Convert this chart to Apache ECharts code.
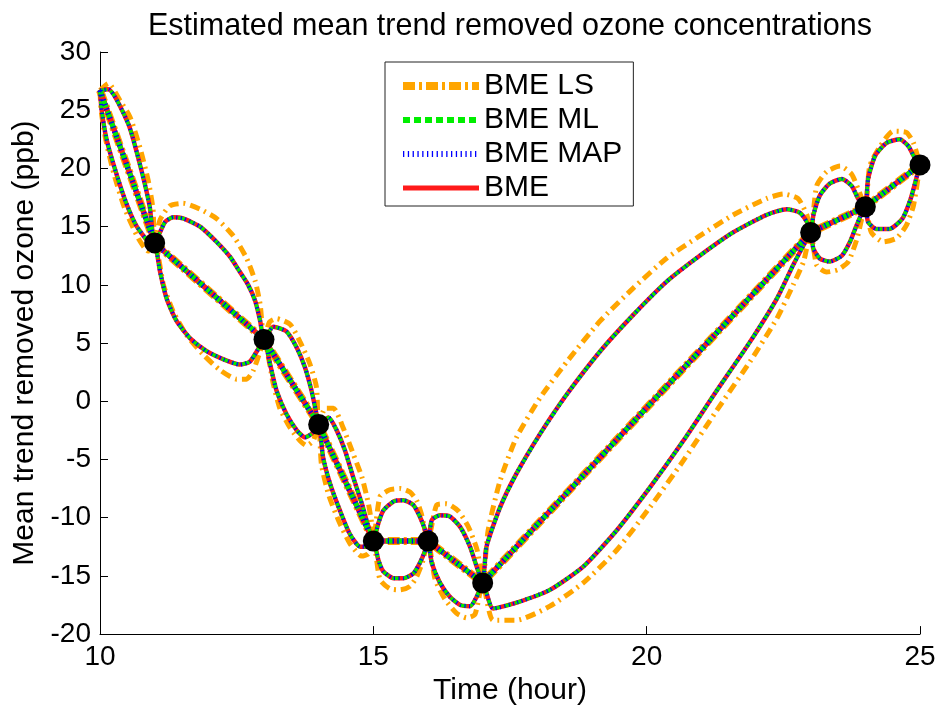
<!DOCTYPE html>
<html>
<head>
<meta charset="utf-8">
<script src="https://cdn.jsdelivr.net/npm/echarts@6/dist/echarts.min.js"></script>
<style>
  html, body { margin: 0; padding: 0; background: #fff; }
  #chart { width: 939px; height: 711px; }
</style>
</head>
<body>
<div id="chart"></div>
<script>
// observed (conditioning) points, hour -> ppb
const hours = [11, 13, 14, 15, 16, 17, 23, 24, 25]
const observed = [13.6, 5.3, -2.0, -12.0, -12.0, -15.6, 14.5, 16.7, 20.3]

// estimated mean (same for all four methods)
const meanHours = [10, 11, 13, 14, 15, 16, 17, 23, 24, 25]
const meanValues = [26.7, 13.6, 5.3, -2.0, -12.0, -12.0, -15.6, 14.5, 16.7, 20.3]

// BME / BME ML / BME MAP bounds (they overlap in the figure)
const bmeUpper = [
  [10, 26.7], [10.15, 26.8], [10.52, 23.8], [10.76, 19.8], [10.91, 16.7], [11, 13.6],
  [11.19, 15.4], [11.34, 15.8], [11.52, 15.7], [11.83, 15.0], [12.13, 13.7], [12.38, 12.4],
  [12.56, 11.1], [12.71, 10.0], [12.84, 8.6], [12.93, 6.9], [13, 5.3],
  [13.17, 6.4], [13.41, 6.0], [13.6, 4.6], [13.75, 2.9], [13.87, 0.9], [13.96, -1.1], [14, -2.0],
  [14.18, -1.4], [14.33, -2.5], [14.48, -4.2], [14.63, -6.5], [14.79, -8.8], [14.91, -10.8], [15, -12.0],
  [15.09, -10.5], [15.18, -9.4], [15.37, -8.6], [15.55, -8.5], [15.73, -8.9], [15.85, -9.9], [15.95, -11.1], [16, -12.0],
  [16.07, -10.2], [16.22, -9.8], [16.4, -9.9], [16.59, -10.8], [16.77, -12.5], [16.89, -14.2], [17, -15.6],
  [17.07, -12.5], [17.32, -9.1], [17.62, -6.2], [18.05, -2.8], [18.54, 0.6], [19.15, 4.3], [19.75, 7.4],
  [20.37, 10.3], [20.97, 12.5], [21.58, 14.5], [22.19, 16.0], [22.56, 16.5], [22.8, 16.2], [22.93, 15.4], [23, 14.5],
  [23.05, 16.0], [23.17, 17.7], [23.35, 18.7], [23.57, 19.1], [23.75, 18.5], [23.87, 17.4], [24, 16.7],
  [24.05, 19.1], [24.18, 21.1], [24.39, 22.2], [24.63, 22.5], [24.79, 21.9], [24.88, 21.1], [25, 20.3]
]
const bmeLower = [
  [10, 26.7], [10.03, 25.0], [10.12, 22.5], [10.25, 20.3], [10.45, 17.4], [10.65, 15.2], [10.85, 13.9], [11, 13.6],
  [11.1, 11.1], [11.22, 8.8], [11.4, 6.9], [11.65, 5.4], [11.95, 4.3], [12.26, 3.6], [12.56, 3.15],
  [12.74, 3.4], [12.87, 4.3], [13, 5.3],
  [13.11, 3.2], [13.23, 0.9], [13.41, -1.1], [13.6, -2.5], [13.75, -3.1], [13.87, -2.8], [14, -2.0],
  [14.08, -4.8], [14.21, -7.1], [14.39, -9.4], [14.57, -11.4], [14.76, -12.5], [14.91, -12.5], [15, -12.0],
  [15.09, -13.6], [15.18, -14.6], [15.37, -15.2], [15.55, -15.2], [15.73, -14.8], [15.85, -13.9], [15.95, -12.8], [16, -12.0],
  [16.07, -13.9], [16.22, -15.6], [16.4, -16.8], [16.59, -17.5], [16.77, -17.6], [16.89, -16.8], [17, -15.6],
  [17.19, -17.8], [17.62, -17.3], [18.23, -16.2], [18.84, -14.2], [19.45, -11.1], [20.06, -7.4],
  [20.67, -3.4], [21.28, 0.9], [21.89, 5.1], [22.38, 8.8], [22.68, 11.7], [22.87, 13.4], [23, 14.5],
  [23.05, 13.1], [23.17, 12.25], [23.35, 12.0], [23.57, 12.5], [23.72, 13.7], [23.84, 15.1], [24, 16.7],
  [24.05, 15.4], [24.2, 14.8], [24.44, 14.8], [24.68, 15.7], [24.83, 17.4], [24.93, 19.1], [25, 20.3]
]

// BME LS bounds (wider)
const lsUpper = [
  [10, 26.7], [10.15, 27.3], [10.37, 25.8], [10.55, 24.4], [10.73, 21.8], [10.88, 19.0], [10.97, 16.5], [11, 13.6],
  [11.1, 15.6], [11.28, 16.8], [11.52, 17.0], [11.83, 16.5], [12.13, 15.7], [12.44, 14.2], [12.68, 12.3],
  [12.84, 10.3], [12.93, 8.3], [13, 5.3],
  [13.1, 6.8], [13.23, 7.1], [13.48, 6.6], [13.66, 5.1], [13.84, 3.2], [13.96, 1.2], [14, -2.0],
  [14.12, -0.6], [14.27, -0.6], [14.45, -2.3], [14.63, -4.5], [14.79, -6.5], [14.91, -8.8], [14.97, -10.5], [15, -12.0],
  [15.12, -8.2], [15.3, -7.6], [15.49, -7.5], [15.67, -7.8], [15.79, -8.5], [15.88, -9.7], [16, -12.0],
  [16.16, -8.9], [16.34, -8.8], [16.55, -9.4], [16.74, -10.8], [16.9, -12.8], [17, -15.6],
  [17.1, -11.1], [17.32, -6.8], [17.62, -3.1], [18.05, 0.3], [18.54, 3.4], [19.15, 6.9], [19.75, 9.7],
  [20.37, 12.3], [20.97, 14.2], [21.58, 16.0], [22.19, 17.4], [22.5, 17.8], [22.77, 17.4], [22.93, 16.0], [23, 14.5],
  [23.11, 18.5], [23.29, 19.7], [23.54, 20.2], [23.75, 19.5], [23.87, 18.2], [24, 16.7],
  [24.08, 20.2], [24.27, 21.9], [24.51, 23.2], [24.75, 23.1], [24.88, 22.2], [25, 20.3]
]
const lsLower = [
  [10, 26.7], [10.02, 25.0], [10.1, 22.6], [10.25, 19.6], [10.45, 16.6], [10.7, 14.0], [10.88, 12.9], [11, 13.6],
  [11.16, 10.0], [11.34, 7.7], [11.58, 5.7], [11.89, 4.0], [12.19, 2.7], [12.5, 1.9], [12.68, 1.9],
  [12.8, 2.6], [12.93, 4.3], [13, 5.3],
  [13.17, 1.5], [13.29, -0.6], [13.48, -2.3], [13.66, -3.4], [13.78, -3.8], [13.9, -3.4], [14, -2.0],
  [14.05, -5.4], [14.18, -8.0], [14.36, -10.2], [14.57, -12.2], [14.79, -13.3], [14.91, -13.1], [15, -12.0],
  [15.12, -15.3], [15.3, -16.1], [15.49, -16.2], [15.67, -15.9], [15.79, -15.1], [15.9, -13.8], [16, -12.0],
  [16.13, -15.3], [16.31, -17.0], [16.52, -18.2], [16.71, -18.6], [16.86, -18.3], [17, -15.6],
  [17.19, -18.8], [17.62, -18.8], [18.23, -17.6], [18.84, -15.6], [19.45, -12.8], [20.06, -9.1],
  [20.67, -5.1], [21.28, -0.8], [21.89, 3.4], [22.38, 7.1], [22.68, 10.0], [22.87, 12.0], [23, 14.5],
  [23.11, 11.7], [23.29, 11.1], [23.5, 11.3], [23.69, 12.0], [23.85, 14.0], [24, 16.7],
  [24.11, 14.5], [24.33, 13.7], [24.57, 14.0], [24.75, 15.1], [24.88, 16.8], [25, 20.3]
]

const xTicks = [10, 15, 20, 25]
const yTicks = [-20, -15, -10, -5, 0, 5, 10, 15, 20, 25, 30]

const FONT = '"Liberation Sans", Arial, Helvetica, sans-serif'

const chart = echarts.init(document.getElementById('chart'))

const meanData = meanHours.map((h, i) => [h, meanValues[i]])

// one entry per method: name, colour, mean line width, bound line width, dash pattern
const methods = [
  { name: 'BME LS', color: '#ffa500', meanWidth: 8, boundWidth: 5, meanDash: [12, 4, 3, 4], boundDash: [10, 5, 2, 5], upper: lsUpper, lower: lsLower },
  { name: 'BME', color: '#ff1a1a', meanWidth: 5.5, boundWidth: 4.5, meanDash: 'solid', boundDash: 'solid', upper: bmeUpper, lower: bmeLower },
  { name: 'BME ML', color: '#00ee00', meanWidth: 5, boundWidth: 3.5, meanDash: [7, 4], boundDash: [7, 4], upper: bmeUpper, lower: bmeLower },
  { name: 'BME MAP', color: '#0000ff', meanWidth: 5.5, boundWidth: 4, meanDash: [1.3, 3.5], boundDash: [1.2, 3.3], upper: bmeUpper, lower: bmeLower }
]

const series = []
methods.forEach((m, k) => {
  const base = {
    type: 'line',
    name: m.name,
    symbol: 'none',
    silent: true,
    smooth: 0.2,
    itemStyle: { color: m.color },
    z: 2 + k
  }
  series.push(Object.assign({}, base, {
    data: meanData,
    smooth: false,
    lineStyle: { color: m.color, width: m.meanWidth, type: m.meanDash, cap: 'butt' }
  }))
  series.push(Object.assign({}, base, {
    data: m.upper,
    lineStyle: { color: m.color, width: m.boundWidth, type: m.boundDash, cap: 'butt' }
  }))
  series.push(Object.assign({}, base, {
    data: m.lower,
    lineStyle: { color: m.color, width: m.boundWidth, type: m.boundDash, cap: 'butt' }
  }))
})

series.push({
  type: 'scatter',
  name: 'observed',
  data: hours.map((h, i) => [h, observed[i]]),
  symbol: 'circle',
  symbolSize: 21,
  itemStyle: { color: '#000', opacity: 1 },
  silent: true,
  z: 20
})

const option = {
  animation: false,
  backgroundColor: '#fff',
  title: {
    text: 'Estimated mean trend removed ozone concentrations',
    left: 143,
    top: 6,
    textStyle: { fontFamily: FONT, fontSize: 30.5, fontWeight: 'normal', color: '#000' }
  },
  grid: { left: 100, right: 19, top: 52, bottom: 73 },
  legend: {
    orient: 'vertical',
    left: 385,
    top: 62,
    padding: [9, 11, 3, 14],
    itemWidth: 76,
    itemHeight: 14,
    itemGap: 4,
    borderColor: '#222',
    borderWidth: 1,
    backgroundColor: '#fff',
    selectedMode: false,
    itemStyle: { color: 'rgba(0,0,0,0)', borderColor: 'rgba(0,0,0,0)', borderWidth: 0 },
    textStyle: { fontFamily: FONT, fontSize: 30, color: '#000', lineHeight: 28 },
    data: [
      { name: 'BME LS', lineStyle: { width: 8, type: [12, 4, 3, 4], cap: 'butt' } },
      { name: 'BME ML', lineStyle: { width: 6, type: [7, 4], cap: 'butt' } },
      { name: 'BME MAP', lineStyle: { width: 6, type: [1.3, 3.5], cap: 'butt' } },
      { name: 'BME', lineStyle: { width: 5, type: 'solid', cap: 'butt' } }
    ]
  },
  xAxis: {
    type: 'value',
    min: xTicks[0],
    max: xTicks[xTicks.length - 1],
    interval: 5,
    name: 'Time (hour)',
    nameLocation: 'middle',
    nameGap: 40,
    nameTextStyle: { fontFamily: FONT, fontSize: 30, color: '#000' },
    axisLine: { onZero: false, lineStyle: { color: '#000', width: 1 } },
    axisTick: { inside: true, length: 8, lineStyle: { color: '#000' } },
    axisLabel: { fontFamily: FONT, fontSize: 28, color: '#000', margin: 9 },
    splitLine: { show: false }
  },
  yAxis: {
    type: 'value',
    min: yTicks[0],
    max: yTicks[yTicks.length - 1],
    interval: 5,
    name: 'Mean trend removed ozone (ppb)',
    nameLocation: 'middle',
    nameGap: 60,
    nameTextStyle: { fontFamily: FONT, fontSize: 30, color: '#000' },
    axisLine: { show: true, onZero: false, lineStyle: { color: '#000', width: 1 } },
    axisTick: { show: true, inside: true, length: 8, lineStyle: { color: '#000' } },
    axisLabel: { fontFamily: FONT, fontSize: 28, color: '#000', margin: 9 },
    splitLine: { show: false }
  },
  series: series
}

chart.setOption(option)
</script>
</body>
</html>
